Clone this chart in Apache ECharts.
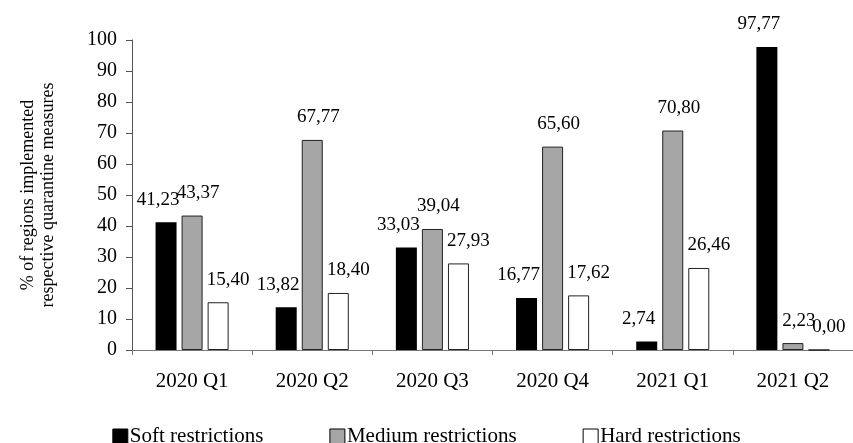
<!DOCTYPE html>
<html>
<head>
<meta charset="utf-8">
<script src="https://cdn.jsdelivr.net/npm/echarts@6/dist/echarts.min.js"></script>
<style>
  html, body { margin: 0; padding: 0; background: #fff; }
  #main { width: 853px; height: 443px; }
</style>
</head>
<body>
<div id="main"></div>
<script>
var quarters = ['2020 Q1', '2020 Q2', '2020 Q3', '2020 Q4', '2021 Q1', '2021 Q2'];
var softData = [41.23, 13.82, 33.03, 16.77, 2.74, 97.77];   // Soft restrictions
var mediumData = [43.37, 67.77, 39.04, 65.60, 70.80, 2.23]; // Medium restrictions
var hardData = [15.40, 18.40, 27.93, 17.62, 26.46, 0.00];   // Hard restrictions
var seriesNames = ['Soft restrictions', 'Medium restrictions', 'Hard restrictions'];

var font = "'Liberation Serif', 'Times New Roman', serif";
var myChart = echarts.init(document.getElementById('main'));

// numbers shown with a comma, as in the original
function commaFmt(p) {
  return p.value.toFixed(2).replace('.', ',');
}

function makeSeries(name, data, color, dx) {
  return {
    name: name,
    type: 'bar',
    data: data,
    barWidth: 21,
    barGap: '24%',
    itemStyle: { color: color, borderColor: '#222', borderWidth: color === '#000' ? 0 : 1 },
    label: {
      show: true,
      position: 'top',
      distance: 13,
      offset: [dx, 0],
      formatter: commaFmt,
      color: '#000',
      fontFamily: font,
      fontSize: 19
    }
  };
}

var option = {
  animation: false,
  textStyle: { fontFamily: font },
  grid: { left: 132, right: 0, top: 40, bottom: 93 },
  legend: {
    data: seriesNames,
    top: 421,
    left: 'center',
    icon: 'rect',
    itemWidth: 15,
    itemHeight: 15,
    itemGap: 66,
    itemStyle: { borderColor: '#000', borderWidth: 1 },
    textStyle: { fontFamily: font, fontSize: 21, color: '#000', padding: [0, 0, 0, -3] }
  },
  xAxis: {
    type: 'category',
    data: quarters,
    axisLine: { lineStyle: { color: '#777', width: 1 } },
    axisTick: { show: true, length: 5, lineStyle: { color: '#777' } },
    axisLabel: { color: '#000', fontFamily: font, fontSize: 21, margin: 21 }
  },
  yAxis: {
    type: 'value',
    min: 0,
    max: 100,
    interval: 10,
    name: '% of regions implemented\nrespective quarantine measures',
    nameLocation: 'middle',
    nameGap: 74,
    nameTextStyle: { color: '#000', fontFamily: font, fontSize: 18, lineHeight: 20 },
    splitLine: { show: false },
    axisLine: { show: true, lineStyle: { color: '#555', width: 1 } },
    axisTick: { show: true, length: 6, lineStyle: { color: '#555' } },
    axisLabel: { color: '#000', fontFamily: font, fontSize: 20, margin: 15 }
  },
  series: [
    makeSeries(seriesNames[0], softData, '#000', -8),
    makeSeries(seriesNames[1], mediumData, '#a6a6a6', 6),
    makeSeries(seriesNames[2], hardData, '#fff', 10)
  ]
};
myChart.setOption(option);
</script>
</body>
</html>
